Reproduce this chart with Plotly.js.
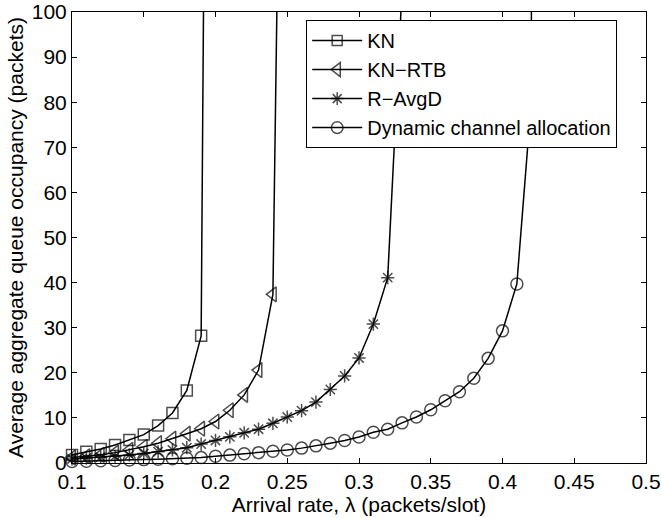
<!DOCTYPE html>
<html>
<head>
<meta charset="utf-8">
<script src="https://cdn.plot.ly/plotly-3.0.1.min.js"></script>
<style>html,body{margin:0;padding:0;background:#fff;}#chart{width:662px;height:518px;}</style>
</head>
<body>
<div id="chart"></div>
<script>
// Arrival rate values (packets/slot)
const lambdaKN   = [0.10,0.11,0.12,0.13,0.14,0.15,0.16,0.17,0.18,0.19,0.20];
const knQueue    = [1.8,2.5,3.1,4.0,5.1,6.3,8.3,11.1,16.1,28.2,470];

const lambdaRTB  = [0.10,0.11,0.12,0.13,0.14,0.15,0.16,0.17,0.18,0.19,0.20,0.21,0.22,0.23,0.24,0.25];
const rtbQueue   = [1.2,1.5,1.8,2.3,2.9,3.6,4.4,5.4,6.5,7.6,9.2,11.7,15.1,20.6,37.4,265];

const lambdaAvgD = [0.10,0.11,0.12,0.13,0.14,0.15,0.16,0.17,0.18,0.19,0.20,0.21,0.22,0.23,0.24,0.25,0.26,0.27,0.28,0.29,0.30,0.31,0.32,0.33];
const avgdQueue  = [0.9,1.1,1.3,1.5,1.8,2.1,2.5,2.9,3.4,4.2,5.0,5.8,6.7,7.5,8.8,10.2,11.6,13.5,16.3,19.3,23.3,30.8,41.1,105];

const lambdaDCA  = [0.10,0.11,0.12,0.13,0.14,0.15,0.16,0.17,0.18,0.19,0.20,0.21,0.22,0.23,0.24,0.25,0.26,0.27,0.28,0.29,0.30,0.31,0.32,0.33,0.34,0.35,0.36,0.37,0.38,0.39,0.40,0.41,0.42,0.43];
const dcaQueue   = [0.35,0.4,0.5,0.55,0.65,0.75,0.85,0.95,1.05,1.2,1.5,1.75,2.05,2.3,2.6,2.9,3.3,3.8,4.4,5.0,5.75,6.8,7.5,8.9,10.2,11.8,13.8,15.8,18.8,23.2,29.3,39.7,80,1500];

const xTickVals  = [0.1,0.15,0.2,0.25,0.3,0.35,0.4,0.45,0.5];
const xTickText  = ['0.1','0.15','0.2','0.25','0.3','0.35','0.4','0.45','0.5'];
const yTickVals  = [0,10,20,30,40,50,60,70,80,90,100];

const seriesNames = ['KN','KN\u2212RTB','R\u2212AvgD','Dynamic channel allocation'];

const YMAX = 100;
function sizes(ys, s){ return ys.map(v => v <= YMAX ? s : 0); }

function mk(x, y, name, symbol, size){
  return {
    x: x, y: y, name: name, type: 'scatter', mode: 'lines+markers',
    cliponaxis: false,
    line: {color: '#000', width: 1.5},
    marker: {symbol: symbol, size: sizes(y, size), color: '#000',
             line: {color: '#000', width: 1.5}}
  };
}

const data = [
  mk(lambdaKN, knQueue, seriesNames[0], 'square-open', 11),
  mk(lambdaRTB, rtbQueue, seriesNames[1], 'triangle-left-open', 13),
  mk(lambdaAvgD, avgdQueue, seriesNames[2], 'asterisk-open', 11),
  mk(lambdaDCA, dcaQueue, seriesNames[3], 'circle-open', 12)
];

const FONT = 'Liberation Sans, Arial, Helvetica, sans-serif';

const layout = {
  width: 662, height: 518,
  margin: {l: 72, r: 16, t: 12, b: 55},
  paper_bgcolor: '#fff', plot_bgcolor: '#fff',
  font: {family: FONT, size: 21, color: '#000'},
  showlegend: true,
  xaxis: {
    range: [0.1, 0.5], tickvals: xTickVals, ticktext: xTickText,
    ticks: 'inside', ticklen: 5, tickwidth: 1, tickcolor: '#000',
    showline: true, linecolor: '#000', linewidth: 1, mirror: 'ticks',
    showgrid: false, zeroline: false,
    tickfont: {family: FONT, size: 21, color: '#000'},
    title: {text: 'Arrival rate, \u03bb (packets/slot)', font: {family: FONT, size: 21, color: '#000'}, standoff: 0}
  },
  yaxis: {
    range: [0, 100], tickvals: yTickVals,
    ticks: 'inside', ticklen: 5, tickwidth: 1, tickcolor: '#000',
    showline: true, linecolor: '#000', linewidth: 1, mirror: 'ticks',
    showgrid: false, zeroline: false,
    tickfont: {family: FONT, size: 21, color: '#000'},
    title: {text: 'Average aggregate queue occupancy (packets)', font: {family: FONT, size: 21, color: '#000'}, standoff: 2}
  },
  legend: {
    x: 0.408, y: 0.982, xanchor: 'left', yanchor: 'top',
    bgcolor: '#fff', bordercolor: '#000', borderwidth: 1,
    font: {family: FONT, size: 20, color: '#000'},
    itemwidth: 50, tracegroupgap: 0
  }
};

Plotly.newPlot('chart', data, layout, {displayModeBar: false, staticPlot: true});
</script>
</body>
</html>
